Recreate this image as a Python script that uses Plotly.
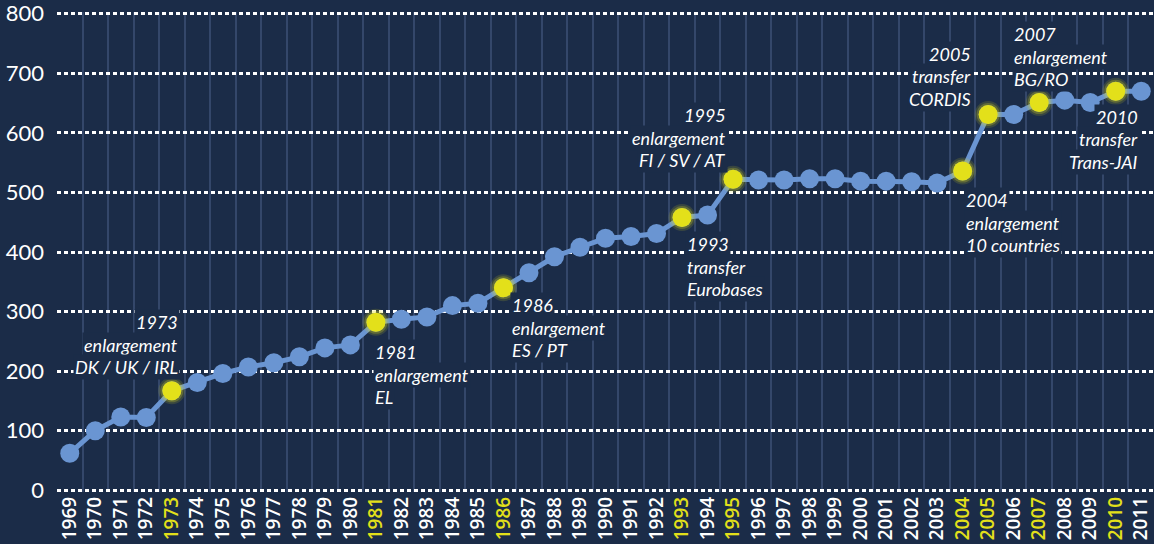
import plotly.graph_objects as go

years = list(range(1969, 2012))
values = [62, 100, 123, 122, 167, 181, 196, 207, 214, 224, 239, 244, 282,
          287, 291, 310, 314, 340, 365, 392, 408, 423, 426, 431, 458, 462,
          522, 521, 521, 523, 523, 519, 519, 518, 516, 536, 631, 631, 651,
          655, 651, 670, 670]
highlight_years = [1973, 1981, 1986, 1993, 1995, 2004, 2005, 2007, 2010]
y_ticks = [0, 100, 200, 300, 400, 500, 600, 700, 800]

# annotation blocks: (lines, anchor year position, first line value, align)
notes = [
    (["1973", "enlargement", "DK / UK / IRL"], 1973.31, 282, "right"),
    (["1981", "enlargement", "EL"], 1980.88, 232, "left"),
    (["1986", "enlargement", "ES / PT"], 1986.25, 311, "left"),
    (["1993", "transfer", "Eurobases"], 1993.11, 413, "left"),
    (["1995", "enlargement", "FI / SV / AT"], 1994.8, 630, "right"),
    (["2004", "enlargement", "10 countries"], 2004.05, 487, "left"),
    (["2005", "transfer", "CORDIS"], 2004.4, 733, "right"),
    (["2007", "enlargement", "BG/RO"], 2005.94, 766, "left"),
    (["2010", "transfer", "Trans-JAI"], 2010.95, 627, "right"),
]

BG = "#1b2c48"
LINE = "#6a95d2"
YEL = "#e3e01a"

fig = go.Figure()
fig.add_trace(go.Scatter(
    x=years, y=values, mode="lines+markers",
    line=dict(color=LINE, width=5),
    marker=dict(color=LINE, size=19),
    hoverinfo="skip", showlegend=False))
hx = [y for y in years if y in highlight_years]
hy = [values[years.index(y)] for y in hx]
fig.add_trace(go.Scatter(
    x=hx, y=hy, mode="markers",
    marker=dict(color="rgba(227,224,26,0.15)", size=27),
    hoverinfo="skip", showlegend=False))
fig.add_trace(go.Scatter(
    x=hx, y=hy, mode="markers",
    marker=dict(color="rgba(227,224,26,0.25)", size=23),
    hoverinfo="skip", showlegend=False))
fig.add_trace(go.Scatter(
    x=hx, y=hy, mode="markers",
    marker=dict(color=YEL, size=19),
    hoverinfo="skip", showlegend=False))

ticktext = [f"<span style='color:{YEL}'>{y}</span>" if y in highlight_years else str(y)
            for y in years]

fig.update_xaxes(
    range=[1968.5, 2011.5], tickmode="array", tickvals=years, ticktext=ticktext,
    tickangle=-90, showgrid=False, zeroline=False, showline=False,
    ticks="", tickfont=dict(family="Open Sans", size=19, color="white", weight=600),
    minor=dict(tick0=1968.5, dtick=1, showgrid=True, gridcolor="#34476a", gridwidth=1.5),
)
fig.update_yaxes(
    range=[-3, 803], tickmode="array", tickvals=y_ticks, showgrid=True,
    gridcolor="white", gridwidth=2.5,
    griddash="4px,3px", zeroline=False, showline=False, ticks="",
    ticklabeloverflow="allow", ticklabelstandoff=12,
    tickfont=dict(family="Lato", size=22, color="white"),
)

line_step = 37.8
for lines, xpos, ytop, align in notes:
    for i, t in enumerate(lines):
        fig.add_annotation(
            x=xpos, y=ytop - i * line_step, text=t, showarrow=False,
            xanchor=align, yanchor="middle", bgcolor=BG,
            font=dict(family="Lato", size=18, color="white", style="italic"),
            borderpad=1,
        )

fig.update_layout(
    width=1154, height=544, paper_bgcolor=BG, plot_bgcolor=BG,
    margin=dict(l=57, r=0, t=12, b=52),
)

fig.write_html("out.html", config={"displayModeBar": False},
               post_script="document.body.style.margin='0';document.body.style.overflow='hidden';")
